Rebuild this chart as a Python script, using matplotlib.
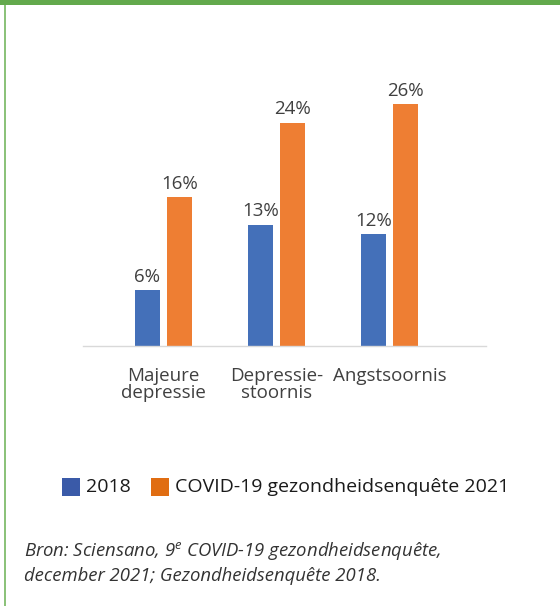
import matplotlib
matplotlib.use("Agg")
import matplotlib.pyplot as plt
from matplotlib.patches import Rectangle
import numpy as np

categories = ["Majeure\ndepressie", "Depressie-\nstoornis", "Angstsoornis"]
values_2018 = [6, 13, 12]
values_2021 = [16, 24, 26]
series_names = ["2018", "COVID-19 gezondheidsenquête 2021"]

W, H = 560, 606
fig = plt.figure(figsize=(W / 100, H / 100), dpi=100)
plt.rcParams['font.family'] = ['Open Sans', 'DejaVu Sans']

# green frame
fig.patches.append(Rectangle((0, 1 - 5 / H), 1, 5 / H, transform=fig.transFigure,
                             facecolor="#63a94c", edgecolor="none"))
fig.patches.append(Rectangle((4 / W, 0), 2 / W, 1 - 5 / H, transform=fig.transFigure,
                             facecolor="#8cc27a", edgecolor="none"))

ax = fig.add_axes([83 / W, (H - 346) / H, 403 / W, 279 / H])
x = np.arange(len(categories))
bw = 0.221
off = 0.1416
c1, c2 = "#4470b9", "#ee7e33"
b1 = ax.bar(x - off, values_2018, bw, color=c1)
b2 = ax.bar(x + off, values_2021, bw, color=c2)
ax.set_xlim(-0.712, 2.854)
ax.set_ylim(0, 30)
for bars, vals in ((b1, values_2018), (b2, values_2021)):
    for r, v in zip(bars, vals):
        ax.text(r.get_x() + r.get_width() / 2, v + 0.5, f"{v}%", ha="center", va="bottom",
                fontsize=13.5, color="#404040")
for s in ["top", "right", "left"]:
    ax.spines[s].set_visible(False)
ax.spines["bottom"].set_color("#d9d9d9")
ax.spines["bottom"].set_linewidth(1)
ax.set_yticks([])
ax.set_xticks(x)
ax.set_xticklabels(categories, fontsize=13.5, color="#404040", linespacing=0.95)
ax.tick_params(axis="x", length=0, pad=15)

# legend
lx = [62, 151]
for i, (name, col) in enumerate(zip(series_names, ["#3a5aa8", "#e06d12"])):
    fig.patches.append(Rectangle((lx[i] / W, 1 - 496 / H), 18 / W, 18 / H,
                                 transform=fig.transFigure, facecolor=col, edgecolor="none"))
    fig.text((lx[i] + 24) / W, 1 - 487 / H, name, fontsize=14, color="#1a1a1a",
             va="center", ha="left")

fig.text(24 / W, 1 - 551 / H, "Bron: Sciensano, 9$^{\\mathregular{e}}$ COVID-19 gezondheidsenquête,",
         fontsize=13.3, style="italic", color="#333333", va="center")
fig.text(24 / W, 1 - 576 / H, "december 2021; Gezondheidsenquête 2018.",
         fontsize=13.3, style="italic", color="#333333", va="center")

fig.savefig("out.png", dpi=100)
